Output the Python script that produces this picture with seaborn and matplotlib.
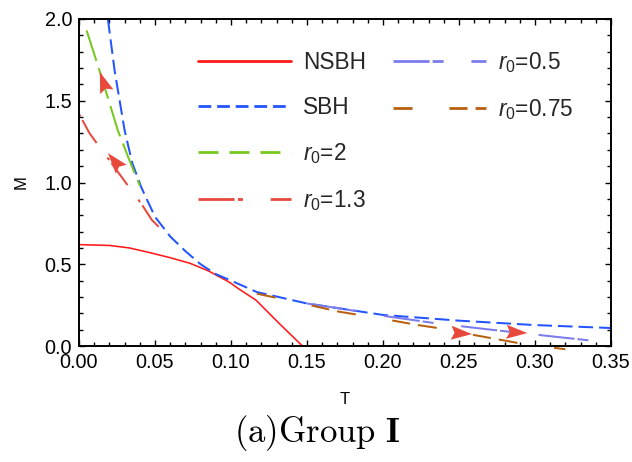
import matplotlib
matplotlib.use("Agg")
import matplotlib.pyplot as plt
from matplotlib.lines import Line2D
from matplotlib.patches import Polygon
from matplotlib.transforms import IdentityTransform
import seaborn as sns
import numpy as np
import pandas as pd

# ---------------- data ----------------
nsbh_T = [0.000, 0.020, 0.033, 0.047, 0.060, 0.073, 0.085, 0.099, 0.105, 0.1165, 0.1315, 0.147]
nsbh_M = [0.620, 0.615, 0.600, 0.570, 0.540, 0.506, 0.460, 0.390, 0.350, 0.280, 0.140, 0.000]

sbh_T = [0.0190, 0.0235, 0.030, 0.035, 0.041, 0.050, 0.060, 0.070, 0.080, 0.090, 0.100, 0.117, 0.150, 0.200, 0.250, 0.300, 0.350]
sbh_M = [2.00, 1.68, 1.32, 1.12, 0.97, 0.79, 0.67, 0.58, 0.50, 0.44, 0.40, 0.33, 0.26, 0.19, 0.155, 0.128, 0.110]

r2_T = [0.005, 0.014, 0.0255, 0.033, 0.040]
r2_M = [1.93, 1.67, 1.32, 1.14, 0.98]

r13_T = [0.000, 0.007, 0.022, 0.041, 0.048, 0.061]
r13_M = [1.42, 1.30, 1.11, 0.87, 0.77, 0.65]

r05_T = [0.150, 0.175, 0.200, 0.234, 0.267, 0.297, 0.320, 0.350]
r05_M = [0.26, 0.225, 0.185, 0.140, 0.104, 0.073, 0.050, 0.020]

r075_T = [0.117, 0.1425, 0.171, 0.200, 0.223, 0.236, 0.260, 0.289, 0.320]
r075_M = [0.32, 0.27, 0.21, 0.166, 0.128, 0.110, 0.067, 0.018, -0.020]

labels = ["NSBH", "SBH", "$r_0$=2", "$r_0$=1.3", "$r_0$=0.5", "$r_0$=0.75"]

# arrows: tail (T, M) -> head (T, M)
arrow_tail_T = [0.0217, 0.035, 0.2354, 0.271]
arrow_tail_M = [1.464, 1.00, 0.087, 0.093]
arrow_head_T = [0.0137, 0.019, 0.2586, 0.295]
arrow_head_M = [1.676, 1.18, 0.073, 0.079]

x_ticks = [0.00, 0.05, 0.10, 0.15, 0.20, 0.25, 0.30, 0.35]
y_ticks = [0.0, 0.5, 1.0, 1.5, 2.0]

# ---------------- style ----------------
sns.set_theme(style="ticks")
plt.rcParams["font.family"] = ["Liberation Sans", "DejaVu Sans"]
plt.rcParams["mathtext.fontset"] = "custom"
plt.rcParams["mathtext.rm"] = "Liberation Sans"
plt.rcParams["mathtext.it"] = "Liberation Sans:italic"
plt.rcParams["lines.scale_dashes"] = False

fig = plt.figure(figsize=(6.32, 4.62), dpi=100)
W, H = 632, 462
L, R, T_, B = 79, 611, 19, 346
ax = fig.add_axes([L / W, 1 - B / H, (R - L) / W, (B - T_) / H])

# (T, M, colour, width, plot dash, offset, legend dash)
series = [
    (nsbh_T, nsbh_M, "#ff1a1a", 1.15, None, 0, None),
    (sbh_T, sbh_M, "#2255ff", 1.45, (10.5, 4.3), 0, (9.2, 4.2)),
    (r2_T, r2_M, "#77c81e", 1.45, (23.0, 5.5), 0, (14.4, 7.9)),
    (r13_T, r13_M, "#e8493d", 1.45, (19.5, 13.0, 2.2, 2.9), 32.5, (26.0, 2.4, 3.6, 20.0)),
    (r05_T, r05_M, "#7b7bec", 1.45, (26.0, 2.2, 7.9, 20.0), 0, (26.0, 2.2, 7.9, 20.0)),
    (r075_T, r075_M, "#b8600f", 1.45, (13.7, 26.6, 13.0, 5.8), 0, (13.7, 26.6, 13.0, 5.8)),
]

handles = []
for (tt, mm, col, lw, dash, off, ldash), lab in zip(series, labels):
    df = pd.DataFrame({"T": tt, "M": mm})
    sns.lineplot(data=df, x="T", y="M", ax=ax, color=col, linewidth=lw,
                 sort=False, estimator=None, legend=False)
    line = ax.get_lines()[-1]
    if dash is not None:
        line.set_linestyle((off, dash))
    if lab == "$r_0$=0.75":
        line.set_clip_on(False)
    h = Line2D([], [], color=col, linewidth=2.0)
    if ldash is not None:
        h.set_linestyle((0, ldash))
    h.set_label(lab)
    handles.append(h)

ax.set_xlim(0, 0.35)
ax.set_ylim(0, 2.0)

# notched arrowheads (Mathematica style), built in display space from data points
head_len, head_half, notch = 21.0, 7.0, 0.84
for tx, ty, hx, hy in zip(arrow_tail_T, arrow_tail_M, arrow_head_T, arrow_head_M):
    p_tail = ax.transData.transform((tx, ty))
    p_tip = ax.transData.transform((hx, hy))
    u = (p_tip - p_tail) / np.hypot(*(p_tip - p_tail))
    n = np.array([-u[1], u[0]])
    verts = [p_tip,
             p_tip - head_len * u + head_half * n,
             p_tip - notch * head_len * u,
             p_tip - head_len * u - head_half * n]
    ax.add_patch(Polygon(verts, closed=True, transform=IdentityTransform(),
                         facecolor="#e8493d", edgecolor="none", zorder=5))

ax.set_xticks(x_ticks)
ax.set_yticks(y_ticks)
ax.set_xticklabels([f"{v:.2f}" for v in x_ticks])
ax.set_yticklabels([f"{v:.1f}" for v in y_ticks])
ax.xaxis.set_minor_locator(matplotlib.ticker.MultipleLocator(0.01))
ax.yaxis.set_minor_locator(matplotlib.ticker.MultipleLocator(0.1))
ax.tick_params(which="both", direction="in", top=True, right=True, color="black", width=1.0)
ax.tick_params(which="major", length=4.5, labelsize=14.3, pad=5, labelcolor="black")
ax.tick_params(which="minor", length=2.6)
for sp in ax.spines.values():
    sp.set_visible(True)
    sp.set_color("black")
    sp.set_linewidth(1.4)

ax.set_xlabel("T", fontsize=12, color="black")
ax.set_ylabel("M", fontsize=12, color="black")
ax.xaxis.set_label_coords(0.5, (B - 392) / (B - T_))
ax.yaxis.set_label_coords((29 - L) / (R - L), 0.5)

blank = Line2D([], [], alpha=0)
leg_handles = handles[:4] + handles[4:] + [blank, blank]
leg_labels = labels[:4] + labels[4:] + ["", ""]
leg = ax.legend(leg_handles, leg_labels, ncol=2, loc="upper left",
                bbox_to_anchor=(198 / W, 1 - 50 / H), bbox_transform=fig.transFigure,
                frameon=False, fontsize=16.3, handlelength=4.1, handletextpad=0.55,
                columnspacing=1.18, labelspacing=0.97, borderpad=0, borderaxespad=0)

fig.text(317 / W, 1 - 442 / H, r"$\mathrm{(a)Group}\ \mathbf{I}$", math_fontfamily="cm",
         fontsize=25, ha="center", va="baseline", color="black")

fig.savefig("out.png", dpi=100)
